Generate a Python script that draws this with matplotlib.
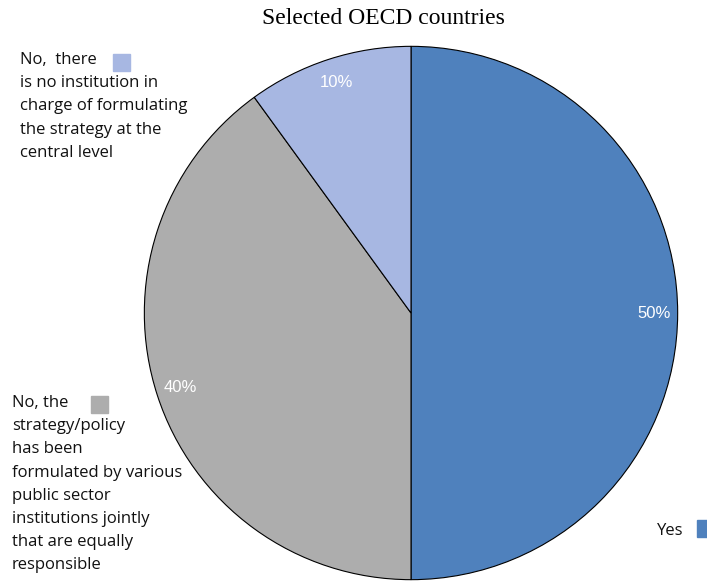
import numpy as np
import matplotlib.pyplot as plt
from matplotlib.patches import Rectangle

# Datos
labels = ["Yes",
          "No, the\nstrategy/policy\nhas been\nformulated by various\npublic sector\ninstitutions jointly\nthat are equally\nresponsible",
          "No,  there\nis no institution in\ncharge of formulating\nthe strategy at the\ncentral level"]
values = [50, 40, 10]
colors = ["#4F81BD", "#ADADAD", "#A7B7E2"]

W, H = 707, 581
fig = plt.figure(figsize=(W / 100, H / 100), dpi=100)

# Pie: centro (411, 313) px, radio 268 px
cx, cy, r = 411, 313, 268
ax = fig.add_axes([(cx - r) / W, (H - cy - r) / H, 2 * r / W, 2 * r / H])
ax.pie(values, colors=colors, startangle=90, counterclock=False,
       autopct="%d%%", pctdistance=0.91, radius=1.0,
       wedgeprops=dict(edgecolor="black", linewidth=0.8),
       textprops=dict(color="white", fontsize=12, family="Liberation Sans"))
ax.set_xlim(-1.005, 1.005)
ax.set_ylim(-1.005, 1.005)
ax.axis("off")

fig.text(383 / W, 1 - 18 / H, "Selected OECD countries", ha="center", va="center",
         fontsize=17, family="Liberation Serif")

# Etiquetas con marcador cuadrado
lab_font = dict(fontsize=12, family="Open Sans", va="top", ha="left",
                linespacing=1.6, color="#111111")
fig.text(20 / W, 1 - 52 / H, labels[2], **lab_font)
fig.text(12 / W, 1 - 395 / H, labels[1], **lab_font)
fig.text(657 / W, 1 - 523 / H, labels[0], **lab_font)

for (x0, y0), c in zip([(697, 520), (91, 396), (113, 54)], colors):
    fig.patches.append(Rectangle((x0 / W, 1 - (y0 + 17) / H), 17 / W, 17 / H,
                                 transform=fig.transFigure, color=c))

fig.savefig("out.png", dpi=100)
